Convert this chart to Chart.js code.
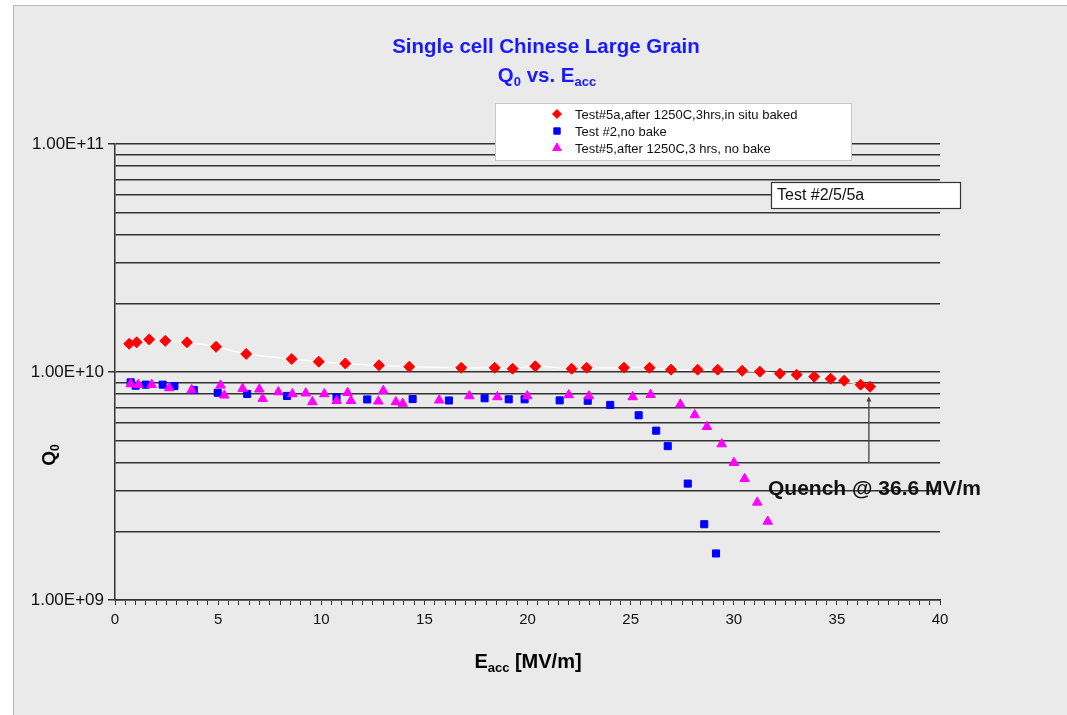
<!DOCTYPE html>
<html><head><meta charset="utf-8">
<script src="https://cdn.jsdelivr.net/npm/chart.js@4.4.0/dist/chart.umd.min.js"></script>
<style>
html,body{margin:0;padding:0;background:#fff;overflow:hidden;}
#frame{position:absolute;left:13px;top:5px;width:1054px;height:710px;background:#eaeaea;border-left:1px solid #b8b8b8;border-top:1px solid #b8b8b8;box-sizing:border-box;}
#wrap{position:absolute;left:0;top:0;width:1067px;height:715px;}
</style></head><body>
<div id="frame"></div>
<div id="wrap"><canvas id="c" width="1067" height="715"></canvas></div>
<script>
// ---- data (Eacc in MV/m, Q0) ----
const bakedE = [0.69,1.05,1.66,2.44,3.49,4.90,6.36,8.57,9.88,11.17,12.80,14.27,16.79,18.41,19.28,20.38,22.14,22.87,24.68,25.92,26.96,28.25,29.22,30.41,31.27,32.24,33.05,33.90,34.70,35.35,36.15,36.61];
const bakedQ = [1.33e10,1.35e10,1.39e10,1.37e10,1.35e10,1.29e10,1.20e10,1.14e10,1.11e10,1.09e10,1.07e10,1.055e10,1.044e10,1.044e10,1.034e10,1.059e10,1.034e10,1.044e10,1.044e10,1.044e10,1.024e10,1.024e10,1.024e10,1.013e10,1.003e10,9.83e9,9.73e9,9.54e9,9.35e9,9.16e9,8.80e9,8.62e9];
const test2E = [0.76,1.00,1.49,2.31,2.88,3.82,4.98,6.41,8.34,10.74,12.23,14.43,16.19,17.92,19.09,19.86,21.56,22.92,24.01,25.39,26.24,26.80,27.77,28.57,29.14];
const test2Q = [9.01e9,8.71e9,8.80e9,8.80e9,8.68e9,8.34e9,8.11e9,8.01e9,7.85e9,7.73e9,7.58e9,7.61e9,7.50e9,7.67e9,7.59e9,7.59e9,7.51e9,7.48e9,7.17e9,6.46e9,5.53e9,4.73e9,3.24e9,2.15e9,1.60e9];
const test5E = [0.76,1.13,1.78,2.63,3.72,5.12,5.30,6.19,7.00,7.16,7.92,8.60,9.25,9.57,10.15,10.75,11.28,11.44,12.77,13.01,13.62,13.95,15.72,17.18,18.54,19.99,22.00,22.98,25.10,25.97,27.41,28.11,28.70,29.42,30.01,30.53,31.14,31.65];
const test5Q = [8.86e9,8.80e9,8.80e9,8.51e9,8.34e9,8.74e9,7.90e9,8.45e9,8.40e9,7.64e9,8.17e9,8.01e9,8.07e9,7.39e9,8.01e9,7.48e9,8.11e9,7.48e9,7.44e9,8.28e9,7.39e9,7.27e9,7.52e9,7.85e9,7.77e9,7.85e9,7.93e9,7.85e9,7.77e9,7.95e9,7.22e9,6.48e9,5.75e9,4.83e9,4.00e9,3.40e9,2.68e9,2.21e9];

const seriesNames = ['Test#5a,after 1250C,3hrs,in situ baked','Test #2,no bake','Test#5,after 1250C,3 hrs, no bake'];
const xTickLabels = ['0','5','10','15','20','25','30','35','40'];
const yGridValues = [1e9,2e9,3e9,4e9,5e9,6e9,7e9,8e9,9e9,1e10,2e10,3e10,4e10,5e10,6e10,7e10,8e10,9e10,1e11];
const yLabelValues = [1e9,1e10,1e11];
const yTickLabels = ['1.00E+09','1.00E+10','1.00E+11'];
const quenchE = 36.6, quenchFromQ = 4.0e9, quenchToQ = 7.8e9;
const boxLabel = 'Test #2/5/5a';
const quenchLabel = 'Quench @ 36.6 MV/m';

const FONT = "'Liberation Sans', Arial, sans-serif";
const pts = (xs, ys) => xs.map((x, i) => ({x: x, y: ys[i]}));

function yLabel(v){
  for (let i = 0; i < yLabelValues.length; i++) {
    if (Math.abs(v / yLabelValues[i] - 1) < 1e-6) return yTickLabels[i];
  }
  return '';
}
function isMajorY(v){ return yLabel(v) !== ''; }

function rich(ctx, parts, x, y, align){
  let w = 0;
  parts.forEach(p => { ctx.font = p.font; p.w = ctx.measureText(p.t).width; w += p.w; });
  let cx = align === 'center' ? x - w / 2 : x;
  ctx.textAlign = 'left';
  ctx.textBaseline = 'alphabetic';
  parts.forEach(p => { ctx.font = p.font; ctx.fillText(p.t, cx, y + (p.dy || 0)); cx += p.w; });
}

const overlay = {
  id: 'overlay',
  afterDraw(chart){
    const ctx = chart.ctx;
    const xs = chart.scales.x, ys = chart.scales.y;
    ctx.save();
    // title
    ctx.fillStyle = '#1a1aff';
    rich(ctx, [{t:'Single cell Chinese Large Grain', font:'bold 20.5px ' + FONT}], 546, 53, 'center');
    rich(ctx, [
      {t:'Q', font:'bold 20.5px ' + FONT},
      {t:'0', font:'bold 13px ' + FONT, dy:4},
      {t:' vs. E', font:'bold 20.5px ' + FONT},
      {t:'acc', font:'bold 13px ' + FONT, dy:4}
    ], 547, 82, 'center');

    // x axis title
    ctx.fillStyle = '#000';
    rich(ctx, [
      {t:'E', font:'bold 20px ' + FONT},
      {t:'acc', font:'bold 13px ' + FONT, dy:4},
      {t:' [MV/m]', font:'bold 20px ' + FONT}
    ], 528, 668, 'center');

    // y axis title
    ctx.save();
    ctx.translate(55, 455);
    ctx.rotate(-Math.PI / 2);
    rich(ctx, [
      {t:'Q', font:'bold 19px ' + FONT},
      {t:'0', font:'bold 12px ' + FONT, dy:4}
    ], 0, 0, 'center');
    ctx.restore();

    // legend box
    ctx.fillStyle = '#ffffff';
    ctx.fillRect(495, 103, 356, 57);
    ctx.strokeStyle = '#c8c8c8';
    ctx.lineWidth = 1;
    ctx.strokeRect(495.5, 103.5, 356, 57);
    const styles = [
      {ps:'rectRot', c:'#ff0000', r:4.5},
      {ps:'rect', c:'#0000ff', r:4.5},
      {ps:'triangle', c:'#ff00ff', r:5}
    ];
    const rowsY = [114, 131, 148];
    styles.forEach((s, i) => {
      ctx.fillStyle = s.c; ctx.strokeStyle = s.c; ctx.lineWidth = 1;
      Chart.helpers.drawPoint(ctx, {pointStyle: s.ps, radius: s.r, rotation: 0, borderWidth: 1}, 557, rowsY[i]);
      ctx.fillStyle = '#111';
      ctx.font = '13px ' + FONT;
      ctx.textAlign = 'left';
      ctx.textBaseline = 'middle';
      ctx.fillText(seriesNames[i], 575, rowsY[i] + 1);
    });

    // Test #2/5/5a box
    ctx.fillStyle = '#ffffff';
    ctx.fillRect(771, 182, 190, 27);
    ctx.strokeStyle = '#333';
    ctx.lineWidth = 1.2;
    ctx.strokeRect(771.5, 182.5, 189, 26);
    ctx.fillStyle = '#111';
    ctx.font = '16px ' + FONT;
    ctx.textAlign = 'left';
    ctx.textBaseline = 'middle';
    ctx.fillText(boxLabel, 777, 196);

    // quench arrow
    const ax = xs.getPixelForValue(quenchE) - 1;
    const y0 = ys.getPixelForValue(quenchFromQ);
    const y1 = ys.getPixelForValue(quenchToQ);
    ctx.strokeStyle = '#444';
    ctx.lineWidth = 1.3;
    ctx.beginPath(); ctx.moveTo(ax, y0); ctx.lineTo(ax, y1 + 2); ctx.stroke();
    ctx.fillStyle = '#444';
    ctx.beginPath(); ctx.moveTo(ax, y1); ctx.lineTo(ax - 2.5, y1 + 5); ctx.lineTo(ax + 2.5, y1 + 5); ctx.closePath(); ctx.fill();

    ctx.fillStyle = '#111';
    ctx.font = 'bold 21px ' + FONT;
    ctx.textAlign = 'left';
    ctx.textBaseline = 'alphabetic';
    ctx.fillText(quenchLabel, 768, 495);
    ctx.restore();
  }
};

new Chart(document.getElementById('c'), {
  type: 'scatter',
  data: {
    datasets: [
      {label: seriesNames[0], data: pts(bakedE, bakedQ), showLine: true, tension: 0.3,
       borderColor: 'rgba(255,255,255,0.9)', borderWidth: 1.5,
       pointStyle: 'rectRot', pointRadius: 5.5, pointBackgroundColor: '#ff0000', pointBorderColor: '#ff0000', pointBorderWidth: 1, order: 3},
      {label: seriesNames[1], data: pts(test2E, test2Q), showLine: false,
       pointStyle: 'rect', pointRadius: 5, pointBackgroundColor: '#0000ff', pointBorderColor: '#0000ff', pointBorderWidth: 1, order: 2},
      {label: seriesNames[2], data: pts(test5E, test5Q), showLine: false,
       pointStyle: 'triangle', pointRadius: 5.5, pointBackgroundColor: '#ff00ff', pointBorderColor: '#ff00ff', pointBorderWidth: 1, order: 1}
    ]
  },
  options: {
    responsive: false,
    animation: false,
    events: [],
    layout: {padding: {top: 144, right: 127, left: 0, bottom: 0}},
    plugins: {legend: {display: false}, title: {display: false}, tooltip: {enabled: false}},
    scales: {
      x: {
        type: 'linear', min: 0, max: 40,
        ticks: {
          stepSize: 0.5, maxTicksLimit: 200, autoSkip: false, maxRotation: 0,
          color: '#111', font: {family: FONT, size: 15}, padding: 6,
          callback: (v) => { const i = xTickLabels.indexOf(String(v)); return i >= 0 ? xTickLabels[i] : ''; }
        },
        grid: {drawOnChartArea: false, drawTicks: true, tickLength: 5, color: '#333', lineWidth: 1},
        border: {color: '#333', width: 1.5},
        afterFit: (s) => { s.height = 115; }
      },
      y: {
        type: 'logarithmic', min: 1e9, max: 1e11,
        afterBuildTicks: (s) => { s.ticks = yGridValues.map(v => ({value: v, major: isMajorY(v)})); },
        ticks: {
          autoSkip: false, color: '#111', font: {family: FONT, size: 17}, padding: 4,
          callback: (v) => yLabel(v)
        },
        grid: {
          color: '#333', lineWidth: 1.5, tickLength: 7, drawTicks: true,
          tickColor: (c) => (c.tick && isMajorY(c.tick.value)) ? '#333' : 'rgba(0,0,0,0)'
        },
        border: {color: '#333', width: 1.5},
        afterFit: (s) => { s.width = 115; }
      }
    }
  },
  plugins: [overlay]
});
</script>
</body></html>
